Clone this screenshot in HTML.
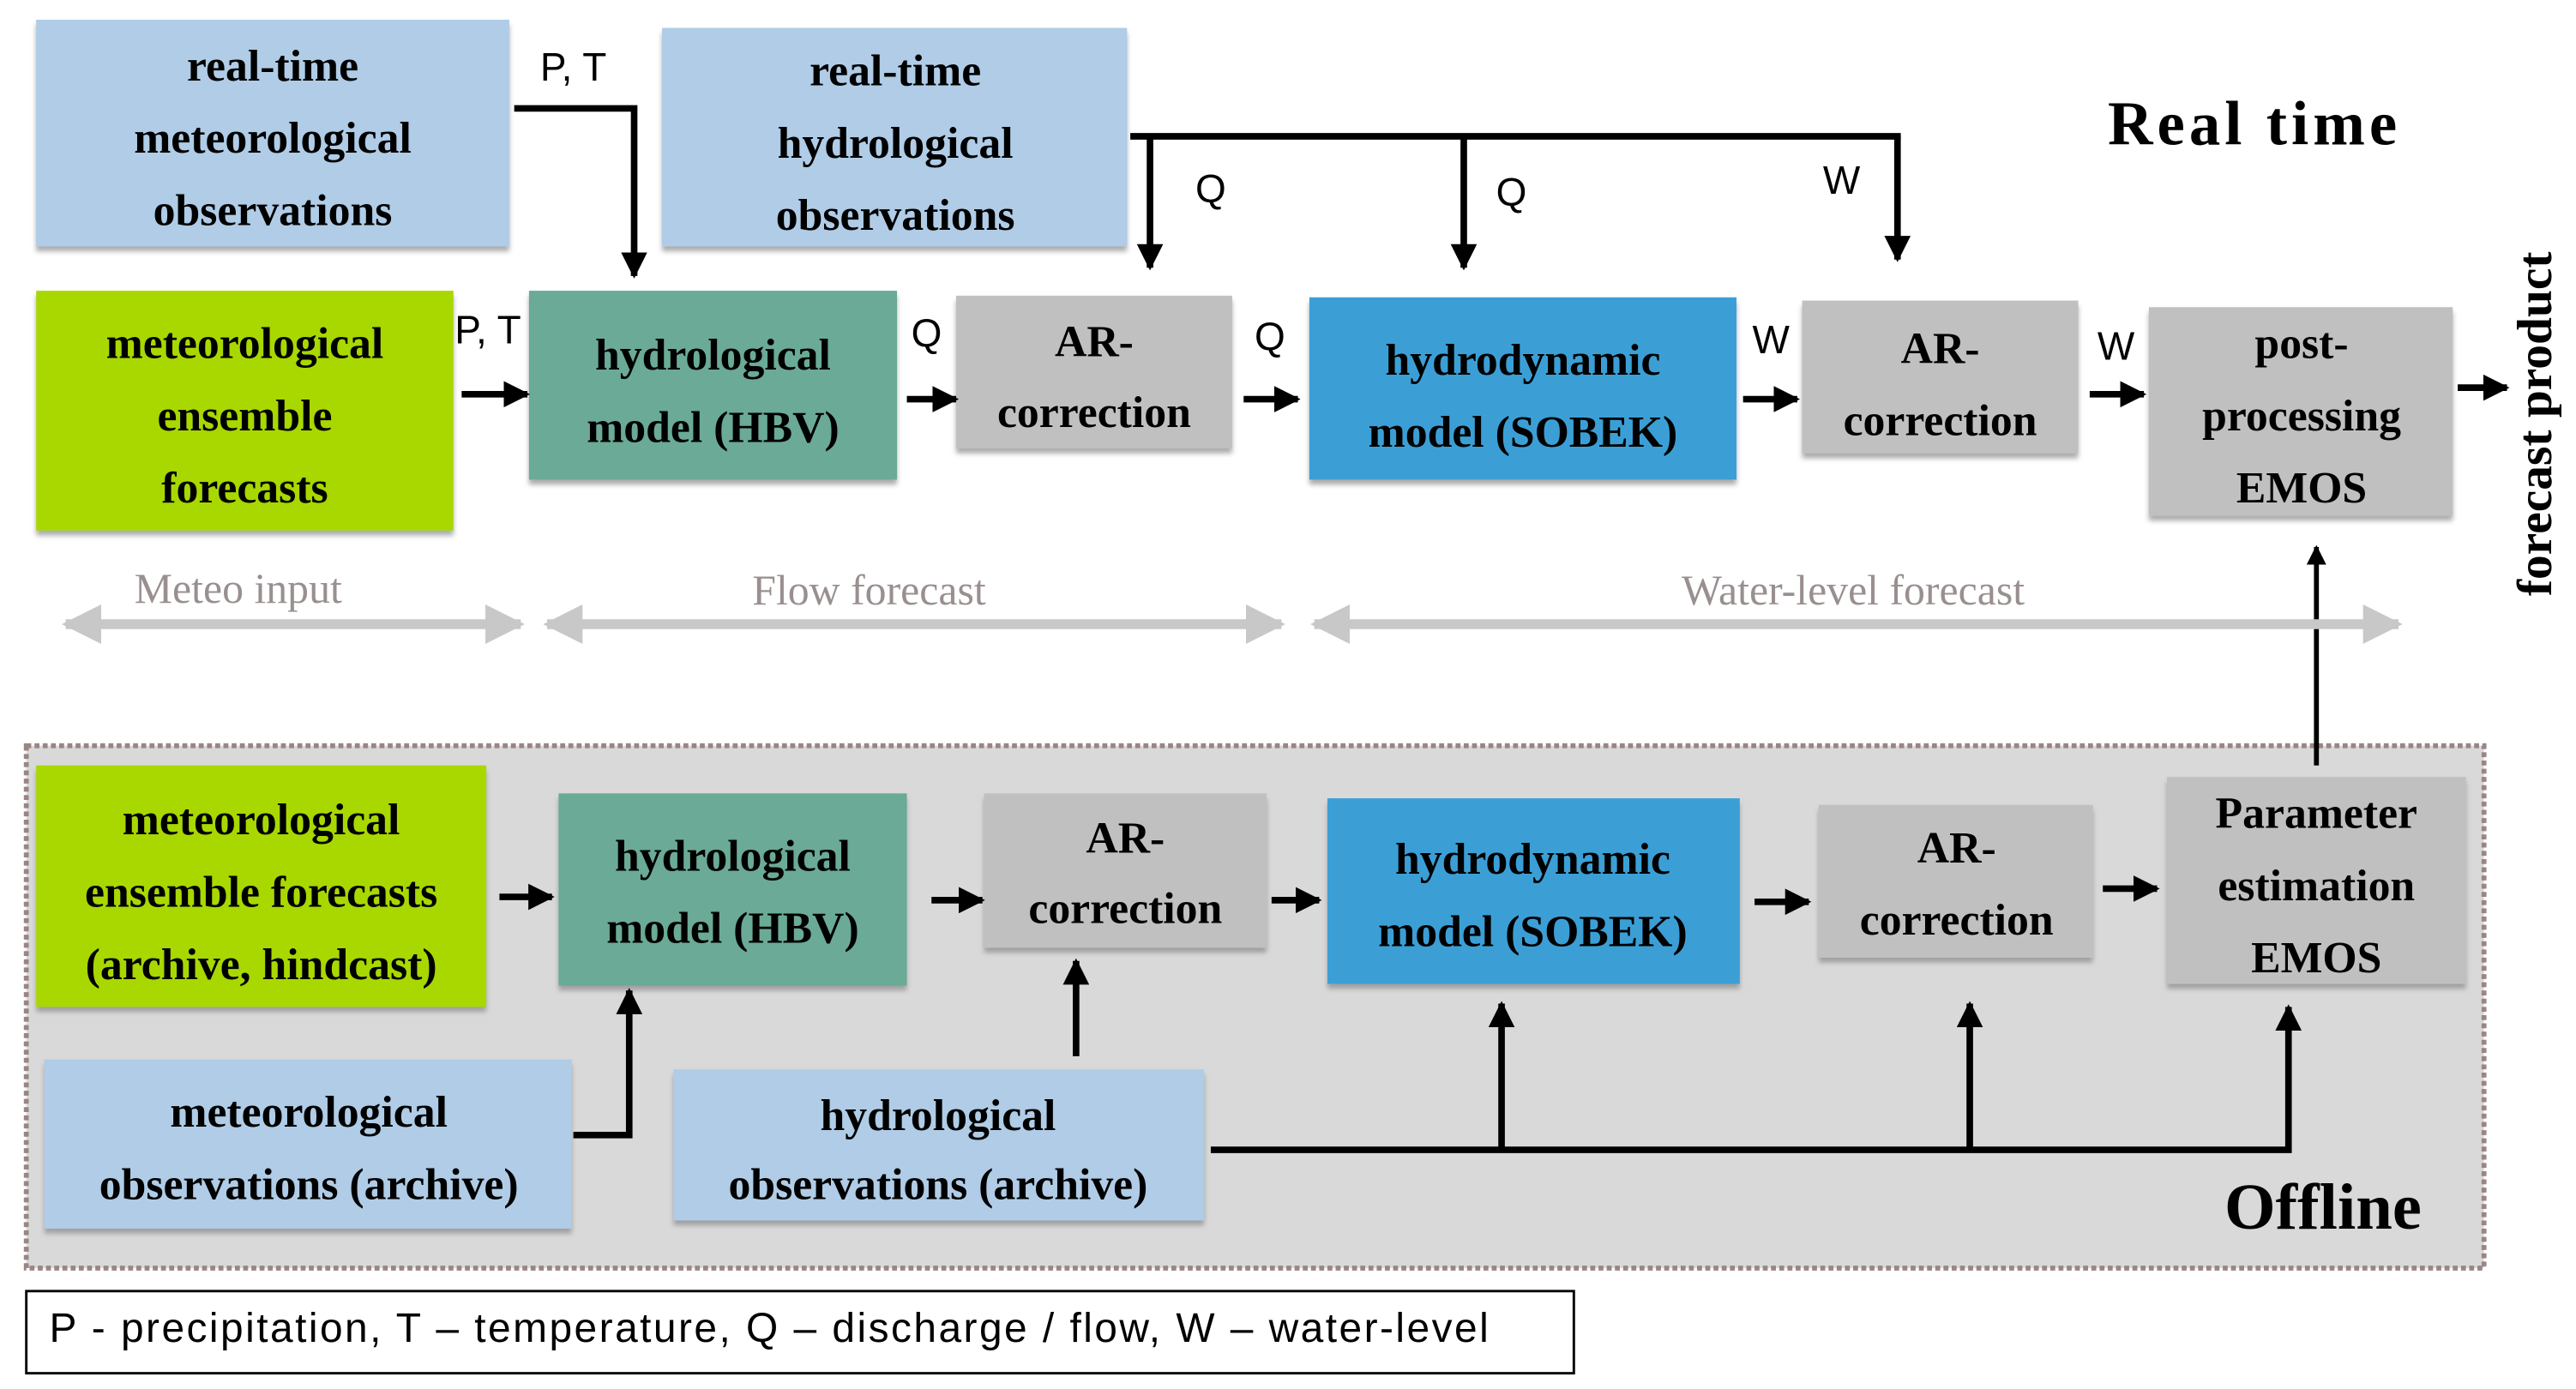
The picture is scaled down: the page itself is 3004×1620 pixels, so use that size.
<!DOCTYPE html>
<html><head><meta charset="utf-8"><style>
html,body{margin:0;padding:0;background:#fff;}
svg{display:block;}
.b{font-family:"Liberation Serif",serif;font-weight:bold;font-size:27px;fill:#000;text-anchor:middle;}
.s{font-family:"Liberation Sans",sans-serif;font-size:20px;fill:#000;text-anchor:middle;}
.g{font-family:"Liberation Serif",serif;font-size:26px;fill:#9a8f8f;text-anchor:middle;}
</style></head><body>
<svg width="3004" height="1620" viewBox="0 0 1568 845.6" xmlns="http://www.w3.org/2000/svg">
<defs>
<filter id="sh" x="-5%" y="-5%" width="110%" height="120%"><feDropShadow dx="0" dy="3" stdDeviation="1.5" flood-color="#888" flood-opacity="0.7"/></filter>
<marker id="ah" viewBox="0 0 10 10" refX="9" refY="5" markerWidth="4" markerHeight="4" orient="auto-start-reverse"><path d="M0,0L10,5L0,10z" fill="#000"/></marker>
<marker id="ga" viewBox="0 0 10 10" refX="9" refY="5" markerWidth="4" markerHeight="4" orient="auto-start-reverse"><path d="M0,0L10,5L0,10z" fill="#c8c8c8"/></marker>
</defs>
<rect width="1568" height="846" fill="#fff"/>
<rect x="16" y="454" width="1496" height="318" fill="#d9d9d9" stroke="#9a8585" stroke-width="3" stroke-dasharray="3,2"/>
<g filter="url(#sh)">
<rect x="22" y="12" width="288" height="138" fill="#b0cce6"/>
<rect x="403" y="17" width="283" height="133" fill="#b0cce6"/>
<rect x="22" y="177" width="254" height="146" fill="#a8d800"/>
<rect x="322" y="177" width="224" height="115" fill="#6aaa96"/>
<rect x="582" y="180" width="168" height="93" fill="#c0c0c0"/>
<rect x="797" y="181" width="260" height="111" fill="#3a9fd6"/>
<rect x="1097" y="183" width="168" height="93" fill="#c0c0c0"/>
<rect x="1308" y="187" width="185" height="127" fill="#c0c0c0"/>
<rect x="22" y="466" width="274" height="147" fill="#a8d800"/>
<rect x="340" y="483" width="212" height="117" fill="#6aaa96"/>
<rect x="599" y="483" width="172" height="94" fill="#c0c0c0"/>
<rect x="808" y="486" width="251" height="113" fill="#3a9fd6"/>
<rect x="1107" y="490" width="167" height="93" fill="#c0c0c0"/>
<rect x="1319" y="473" width="182" height="126" fill="#c0c0c0"/>
<rect x="27" y="645" width="321" height="103" fill="#b0cce6"/>
<rect x="410" y="651" width="323" height="92" fill="#b0cce6"/>
</g>
<g class="b">
<text x="166" y="49">real-time</text><text x="166" y="93">meteorological</text><text x="166" y="137">observations</text>
<text x="545" y="52">real-time</text><text x="545" y="96">hydrological</text><text x="545" y="140">observations</text>
<text x="149" y="218">meteorological</text><text x="149" y="262">ensemble</text><text x="149" y="306">forecasts</text>
<text x="434" y="225">hydrological</text><text x="434" y="269">model (HBV)</text>
<text x="666" y="217">AR-</text><text x="666" y="260">correction</text>
<text x="927" y="228">hydrodynamic</text><text x="927" y="272">model (SOBEK)</text>
<text x="1181" y="221">AR-</text><text x="1181" y="265">correction</text>
<text x="1401" y="218">post-</text><text x="1401" y="262">processing</text><text x="1401" y="306">EMOS</text>
<text x="159" y="508">meteorological</text><text x="159" y="552">ensemble forecasts</text><text x="159" y="596">(archive, hindcast)</text>
<text x="446" y="530">hydrological</text><text x="446" y="574">model (HBV)</text>
<text x="685" y="519">AR-</text><text x="685" y="562">correction</text>
<text x="933" y="532">hydrodynamic</text><text x="933" y="576">model (SOBEK)</text>
<text x="1191" y="525">AR-</text><text x="1191" y="569">correction</text>
<text x="1410" y="504">Parameter</text><text x="1410" y="548">estimation</text><text x="1410" y="592">EMOS</text>
<text x="188" y="686">meteorological</text><text x="188" y="730">observations (archive)</text>
<text x="571" y="688">hydrological</text><text x="571" y="730">observations (archive)</text>
</g>
<text x="1371" y="88" class="b" style="font-size:38px" textLength="176">Real time</text>
<text x="1414" y="748" class="b" style="font-size:40px">Offline</text>
<text class="b" style="font-size:30px" transform="translate(1553,258) rotate(-90)">forecast product</text>
<g stroke="#000" stroke-width="4" fill="none">
<polyline points="313,66 386,66 386,168" marker-end="url(#ah)"/>
<line x1="688" y1="83" x2="1157" y2="83"/>
<line x1="700" y1="83" x2="700" y2="163" marker-end="url(#ah)"/>
<line x1="891" y1="83" x2="891" y2="163" marker-end="url(#ah)"/>
<line x1="1155" y1="83" x2="1155" y2="158" marker-end="url(#ah)"/>
<line x1="281" y1="240" x2="321" y2="240" marker-end="url(#ah)"/>
<line x1="552" y1="243" x2="582" y2="243" marker-end="url(#ah)"/>
<line x1="757" y1="243" x2="790" y2="243" marker-end="url(#ah)"/>
<line x1="1061" y1="243" x2="1094" y2="243" marker-end="url(#ah)"/>
<line x1="1272" y1="240" x2="1305" y2="240" marker-end="url(#ah)"/>
<line x1="1496" y1="236" x2="1526" y2="236" marker-end="url(#ah)"/>
<line x1="1410" y1="466" x2="1410" y2="333" marker-end="url(#ah)" stroke-width="3"/>
<line x1="304" y1="546" x2="336" y2="546" marker-end="url(#ah)"/>
<line x1="567" y1="548" x2="598" y2="548" marker-end="url(#ah)"/>
<line x1="774" y1="548" x2="803" y2="548" marker-end="url(#ah)"/>
<line x1="1068" y1="549" x2="1101" y2="549" marker-end="url(#ah)"/>
<line x1="1280" y1="541" x2="1313" y2="541" marker-end="url(#ah)"/>
<polyline points="349,691 383,691 383,603" marker-end="url(#ah)"/>
<line x1="655" y1="643" x2="655" y2="585" marker-end="url(#ah)"/>
<polyline points="737,700 1393,700 1393,613" marker-end="url(#ah)"/>
<line x1="914" y1="700" x2="914" y2="611" marker-end="url(#ah)"/>
<line x1="1199" y1="700" x2="1199" y2="611" marker-end="url(#ah)"/>
</g>
<g class="s" style="font-size:24px">
<text x="349" y="49">P, T</text>
<text x="737" y="123">Q</text><text x="920" y="125">Q</text><text x="1121" y="118">W</text>
<text x="297" y="209">P, T</text><text x="564" y="211">Q</text><text x="773" y="213">Q</text>
<text x="1078" y="215">W</text><text x="1288" y="219">W</text>
</g>
<g stroke="#c8c8c8" stroke-width="6" fill="none">
<line x1="40" y1="380" x2="317" y2="380" marker-start="url(#ga)" marker-end="url(#ga)"/>
<line x1="333" y1="380" x2="780" y2="380" marker-start="url(#ga)" marker-end="url(#ga)"/>
<line x1="800" y1="380" x2="1460" y2="380" marker-start="url(#ga)" marker-end="url(#ga)"/>
</g>
<text x="145" y="367" class="g">Meteo input</text>
<text x="529" y="368" class="g">Flow forecast</text>
<text x="1128" y="368" class="g">Water-level  forecast</text>
<rect x="16" y="786" width="942" height="50" fill="#fff" stroke="#000" stroke-width="1.5"/>
<text x="30" y="817" style="font-family:'Liberation Sans',sans-serif;font-size:25px" textLength="876">P - precipitation, T – temperature, Q – discharge / flow, W – water-level</text>
</svg>
</body></html>
